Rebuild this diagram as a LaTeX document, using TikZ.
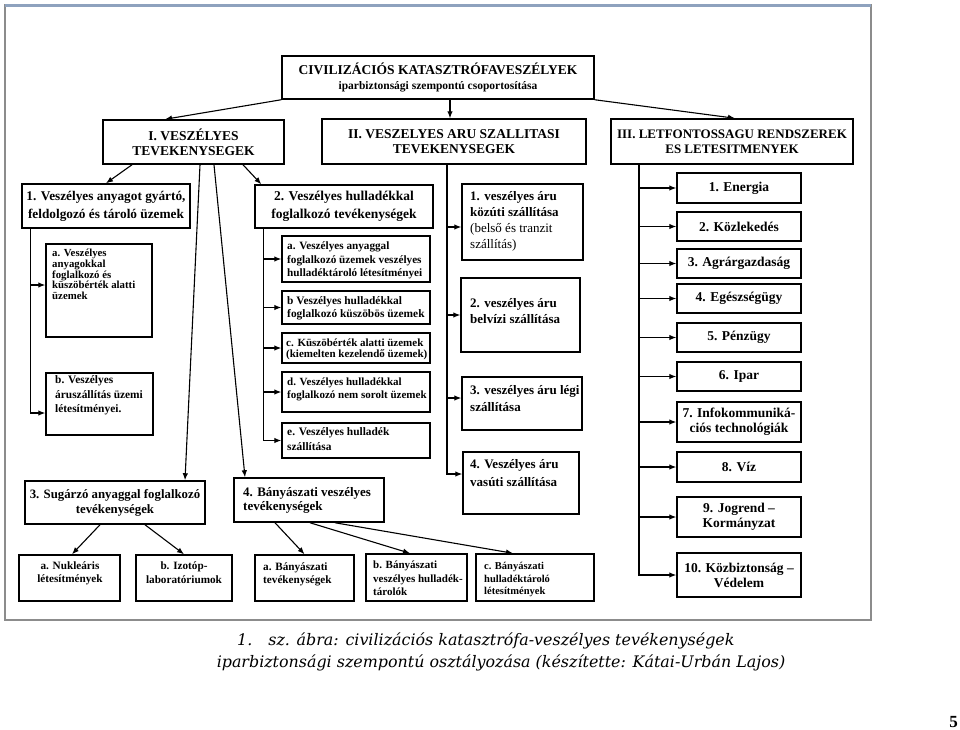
\documentclass[tikz,border=0pt]{standalone}
\usepackage{fontspec}
\setmainfont{Liberation Serif}
\newfontfamily\captionfont{DejaVu Serif}
\usetikzlibrary{arrows.meta}
\definecolor{framegray}{HTML}{8C8C8C}
\definecolor{frameblue}{HTML}{8EA2BE}
\newcommand{\pxfont}[2]{\fontsize{#1}{#2}\selectfont}

\begin{document}
\begin{tikzpicture}[
  x=1pt,
  y=-1pt,
  box/.style={draw, line width=1.5pt, inner sep=0pt, align=center},
  headtext/.style={font=\bfseries\pxfont{13.5}{15}},
  leaf/.style={inner sep=0pt, align=left, anchor=base west},
  link/.style={line width=1.1pt, -{Latex[length=7pt, width=5.5pt]}},
  frame/.style={draw=framegray, line width=1.5pt}
]
  \useasboundingbox (0,0) rectangle (960,729);

  % ---- frame of the figure ----------------------------------------------
  \draw[frame] (5,5) rectangle (871,620);
  \draw[frameblue, line width=3pt] (5,5.5) -- (871,5.5);

  % ---- root and the three groups ------------------------------------------
  \node[box, headtext, minimum width=312pt, minimum height=43pt] (top)
    at (438,77.5) {CIVILIZÁCIÓS KATASZTRÓFAVESZÉLYEK\\
    {\pxfont{11.5}{14}iparbiztonsági szempontú csoportosítása}};
  \node[box, headtext, minimum width=181pt, minimum height=44pt] (catI)
    at (193.5,142) {I. VESZÉLYES\\TEVEKENYSEGEK};
  \node[box, headtext, minimum width=264pt, minimum height=45pt] (catII)
    at (454,141.5) {II. VESZELYES ARU SZALLITASI\\TEVEKENYSEGEK};
  \node[box, font=\bfseries\pxfont{13}{15}, minimum width=242pt,
    minimum height=45pt] (catIII)
    at (732,141.5) {III. LETFONTOSSAGU RENDSZEREK\\ES LETESITMENYEK};

  \draw[link] (top.south west) -- ([xshift=-28.5pt]catI.north);
  \draw[link] ([xshift=12pt]top.south) -- ([xshift=-4pt]catII.north);
  \draw[link] (top.south east) -- ([xshift=3pt]catIII.north);

  % ---- I. dangerous activities --------------------------------------------
  % leaf texts hang from the baseline of their last line
  \node[box, font=\bfseries\pxfont{13.3}{18}, minimum width=168pt,
    minimum height=44pt] (act1) at (106,206)
    {1. Veszélyes anyagot gyártó,\\feldolgozó és tároló üzemek};
  \node[box, font=\bfseries\pxfont{13.5}{18}, minimum width=178pt,
    minimum height=43pt] (act2) at (344,206.5)
    {2. Veszélyes hulladékkal\\foglalkozó tevékenységek};
  \node[box, font=\bfseries\pxfont{12.8}{15}, minimum width=180pt,
    minimum height=43pt] (act3) at (115,502.5)
    {3. Sugárzó anyaggal foglalkozó\\tevékenységek};
  \node[box, minimum width=150pt, minimum height=44pt] (act4) at (309,500) {};
  \node[leaf, font=\bfseries\pxfont{13}{14}] (tact4) at (243,510)
    {4. Bányászati veszélyes\\tevékenységek};

  \draw[link] ([xshift=-61.5pt]catI.south) -- (act1.north);
  \draw[link] ([xshift=6.5pt]catI.south) -- ([xshift=70pt]act3.north);
  \draw[link] ([xshift=20.5pt]catI.south) -- ([xshift=-64pt]act4.north);
  \draw[link] ([xshift=49.5pt]catI.south) -- ([xshift=7pt]act2.north west);

  % 1. plants
  \node[box, minimum width=106pt, minimum height=93pt] (store) at (99,290.5) {};
  \node[leaf, font=\bfseries\pxfont{10.8}{10.8}] (tstore) at (52,299.7)
    {a. Veszélyes\\anyagokkal\\foglalkozó és\\küszöbérték alatti\\üzemek};
  \node[box, minimum width=107pt, minimum height=62pt] (depot) at (99.5,404) {};
  \node[leaf, font=\bfseries\pxfont{11.4}{14.5}] (tdepot) at (55,412.5)
    {b. Veszélyes\\áruszállítás üzemi\\létesítményei.};
  \draw[link] ([xshift=9pt]act1.south west) |- ([yshift=5.5pt]store.west);
  \draw[link] ([xshift=9pt]act1.south west) |- ([yshift=-9pt]depot.west);

  % 2. waste
  \foreach \n/\y/\h in {a/259/46, b/307.5/33, c/348/30, d/392/40, e/440.5/35}
    \node[box, minimum width=148pt, minimum height=\h pt] (waste\n) at (356,\y) {};
  \node[leaf, font=\bfseries\pxfont{11.2}{13.5}] (twastea) at (287,276.5)
    {a. Veszélyes anyaggal\\foglalkozó üzemek veszélyes\\hulladéktároló létesítményei};
  \node[leaf, font=\bfseries\pxfont{11.4}{13}] (twasteb) at (287,317.5)
    {b Veszélyes hulladékkal\\foglalkozó küszöbös üzemek};
  \node[leaf, font=\bfseries\pxfont{11}{10.5}] (twastec) at (286,357)
    {c. Küszöbérték alatti üzemek\\(kiemelten kezelendő üzemek)};
  \node[leaf, font=\bfseries\pxfont{11}{13}] (twasted) at (287,398.5)
    {d. Veszélyes hulladékkal\\foglalkozó nem sorolt üzemek};
  \node[leaf, font=\bfseries\pxfont{11.4}{15}] (twastee) at (287,450.5)
    {e. Veszélyes hulladék\\szállítása};
  \foreach \n in {a,b,c,d,e}
    \draw[link] ([xshift=9pt]act2.south west) |- (waste\n.west);

  % 3. radiation and 4. mining
  \node[box, minimum width=101pt, minimum height=46pt] (nuke) at (69.5,578) {};
  \node[box, minimum width=96pt, minimum height=46pt] (isot) at (184,578) {};
  \node[box, minimum width=99pt, minimum height=46pt] (mine) at (304.5,578) {};
  \node[box, minimum width=101pt, minimum height=47pt] (heap) at (416.5,577.5) {};
  \node[box, minimum width=118pt, minimum height=47pt] (pond) at (535,577.5) {};
  \node[leaf, anchor=base, align=center, font=\bfseries\pxfont{11.2}{13}] (tnuke)
    at (70,582.5) {a. Nukleáris\\létesítmények};
  \node[leaf, anchor=base, align=center, font=\bfseries\pxfont{11.2}{14}] (tisot)
    at (184,583.5) {b. Izotóp-\\laboratóriumok};
  \node[leaf, font=\bfseries\pxfont{11.2}{13}] (tmine) at (263,583.5)
    {a. Bányászati\\tevékenységek};
  \node[leaf, font=\bfseries\pxfont{11}{13.5}] (theap) at (373,595.5)
    {b. Bányászati\\veszélyes hulladék-\\tárolók};
  \node[leaf, font=\bfseries\pxfont{10.5}{12.5}] (tpond) at (484,594.5)
    {c. Bányászati\\hulladéktároló\\létesítmények};

  \draw[link] ([xshift=-15pt]act3.south) -- ([xshift=2.5pt]nuke.north);
  \draw[link] ([xshift=30pt]act3.south) -- (isot.north);
  \draw[link] ([xshift=-34pt]act4.south) -- (mine.north);
  \draw[link] ([xshift=1pt]act4.south) -- ([xshift=-6.5pt]heap.north);
  \draw[link] ([xshift=26pt]act4.south) -- ([xshift=-22pt]pond.north);

  % ---- II. transport of dangerous goods -----------------------------------
  \node[box, minimum width=121pt, minimum height=76pt] (road) at (522.5,222) {};
  \node[box, minimum width=119pt, minimum height=74pt] (river) at (520.5,315) {};
  \node[box, minimum width=120pt, minimum height=53pt] (air) at (522,403.5) {};
  \node[box, minimum width=116pt, minimum height=62pt] (rail) at (521,483) {};
  \node[leaf, font=\bfseries\pxfont{13}{16}] (troad) at (470,248)
    {1. veszélyes áru\\közúti szállítása\\{\mdseries(belső és tranzit}\\
    {\mdseries szállítás)}};
  \node[leaf, font=\bfseries\pxfont{13}{16}] (triver) at (470,323)
    {2. veszélyes áru\\belvízi szállítása};
  \node[leaf, font=\bfseries\pxfont{13}{17}] (tair) at (470,411)
    {3. veszélyes áru légi\\szállítása};
  \node[leaf, font=\bfseries\pxfont{13}{18}] (trail) at (470,486)
    {4. Veszélyes áru\\vasúti szállítása};

  \draw[link] ([xshift=-7pt]catII.south) |- ([yshift=-5pt]road.west);
  \draw[link] ([xshift=-7pt]catII.south) |- (river.west);
  \draw[link] ([xshift=-7pt]catII.south) |- ([yshift=5.5pt]air.west);
  \draw[link] ([xshift=-7pt]catII.south) |- ([yshift=9pt]rail.west);

  % ---- III. vital systems -------------------------------------------------
  \foreach \n/\y/\h/\t in {1/188/30/{1. Energia}, 2/226.5/29/{2. Közlekedés},
      3/263.5/29/{3. Agrárgazdaság}, 4/298.5/29/{4. Egészségügy},
      5/337.5/29/{5. Pénzügy}, 6/376.5/29/{6. Ipar},
      7/422/40/{7. Infokommuniká-\\ciós technológiák}, 8/467/30/{8. Víz},
      9/517/40/{9. Jogrend –\\Kormányzat},
      10/575/44/{10. Közbiztonság –\\Védelem}}
    \node[box, headtext, minimum width=124pt, minimum height=\h pt] (sys\n)
      at (739,\y) {\t};
  \foreach \n in {1,...,10}
    \draw[link] ([xshift=-93pt]catIII.south) |- (sys\n.west);

  % ---- caption and page number --------------------------------------------
  \node[anchor=base west, inner sep=0pt,
    font=\captionfont\itshape\pxfont{15.9}{18}] (cap1) at (237,645)
    {1.\hspace{16pt}sz. ábra: civilizációs katasztrófa-veszélyes tevékenységek};
  \node[anchor=base, inner sep=0pt,
    font=\captionfont\itshape\pxfont{15.9}{18}] (cap2) at (501,667)
    {iparbiztonsági szempontú osztályozása (készítette: Kátai-Urbán Lajos)};
  \node[anchor=base east, inner sep=0pt, font=\bfseries\pxfont{17}{20}] (page)
    at (958,727) {5};
\end{tikzpicture}
\end{document}
